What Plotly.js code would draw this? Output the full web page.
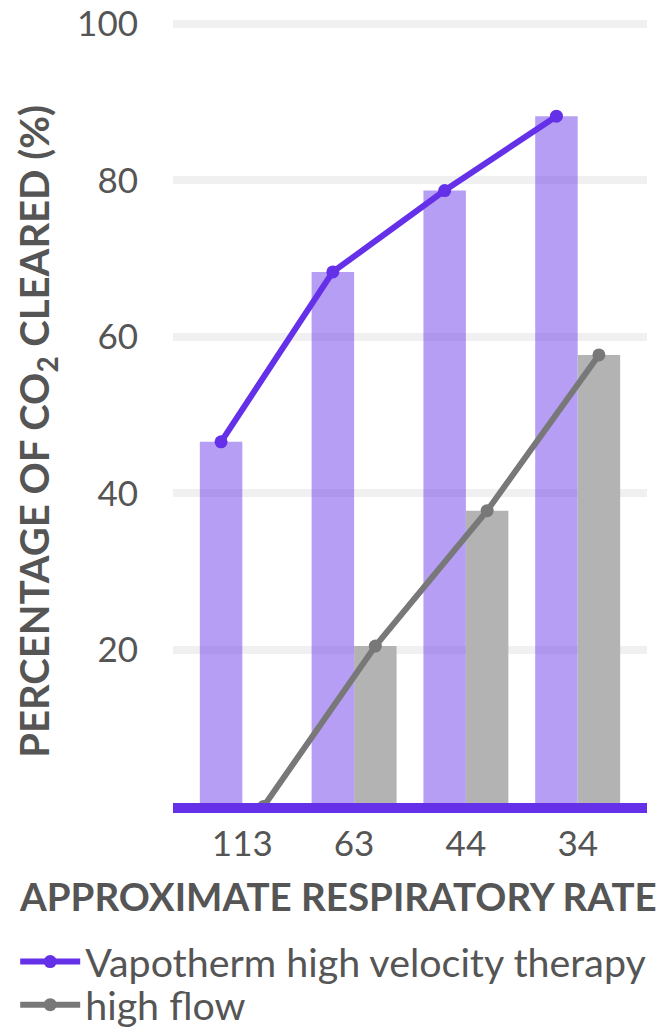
<!DOCTYPE html>
<html>
<head>
<meta charset="utf-8">
<script src="https://cdn.plot.ly/plotly-3.0.1.min.js"></script>
<style>
  html, body { margin: 0; padding: 0; background: #ffffff; }
  #chart { width: 661px; height: 1027px; }
</style>
</head>
<body>
<div id="chart"></div>
<script>
// Respiratory rate groups (x categories)
const rateLabels = ['113', '63', '44', '34'];

// Percentage of CO2 cleared, per therapy
const vapothermValues = [46.6, 68.3, 78.7, 88.2];
const highFlowValues = [0, 20.5, 37.8, 57.7];

// Tick values on the percentage axis
const percentTicks = [20, 40, 60, 80, 100];

const seriesNames = ['Vapotherm high velocity therapy', 'high flow'];

const PURPLE = '#6430e8';
const PURPLE_BAR = 'rgba(100, 48, 232, 0.47)';
const GREY = '#787878';
const GREY_BAR = '#b3b3b3';
const TEXT = '#555555';
const FONT = 'Lato, "Noto Sans", sans-serif';

const BAR_GAP = 0.24;
const barWidth = (1 - BAR_GAP) / 2;

const xIndex = rateLabels.map((_, i) => i);
// Each line runs through the centres of its own series' bars
const vapoX = xIndex.map(i => i - barWidth / 2);
const flowX = xIndex.map(i => i + barWidth / 2);

const traces = [
  {
    type: 'bar', x: vapoX, y: vapothermValues, width: barWidth,
    marker: { color: PURPLE_BAR }, showlegend: false, hoverinfo: 'skip'
  },
  {
    type: 'bar', x: flowX, y: highFlowValues, width: barWidth,
    marker: { color: GREY_BAR }, showlegend: false, hoverinfo: 'skip'
  },
  {
    type: 'scatter', mode: 'lines+markers', name: seriesNames[0],
    x: vapoX, y: vapothermValues,
    line: { color: PURPLE, width: 6 },
    marker: { color: PURPLE, size: 13 },
    legend: 'legend'
  },
  {
    type: 'scatter', mode: 'lines+markers', name: seriesNames[1],
    x: flowX, y: highFlowValues,
    line: { color: GREY, width: 6 },
    marker: { color: GREY, size: 13 },
    legend: 'legend2'
  }
];

// Shared look of the two one-item legends stacked under the chart
const legendStyle = {
  xref: 'container', yref: 'container',
  x: 0.023, xanchor: 'left', yanchor: 'middle',
  font: { family: FONT, size: 39.4, color: TEXT },
  itemwidth: 60,
  bgcolor: 'rgba(0,0,0,0)'
};

const layout = {
  width: 661,
  height: 1027,
  paper_bgcolor: '#ffffff',
  plot_bgcolor: '#ffffff',
  margin: { l: 173, r: 14, t: 16, b: 224, autoexpand: false },
  barmode: 'overlay',
  font: { family: FONT, color: TEXT },
  xaxis: {
    range: [-0.62, 3.62],
    tickmode: 'array',
    tickvals: xIndex,
    ticktext: rateLabels,
    showgrid: false,
    zeroline: false,
    showline: true,
    linecolor: PURPLE,
    linewidth: 10,
    ticks: '',
    ticklabelstandoff: 1,
    tickangle: 0,
    automargin: false,
    tickfont: { family: FONT, size: 35, color: TEXT },
    fixedrange: true
  },
  yaxis: {
    range: [0.45, 101],
    tickmode: 'array',
    tickvals: percentTicks,
    showgrid: true,
    gridcolor: '#f0f0f0',
    gridwidth: 8,
    zeroline: false,
    showline: false,
    ticks: '',
    ticklabelstandoff: 34,
    automargin: false,
    tickfont: { family: FONT, size: 35, color: TEXT },
    fixedrange: true
  },
  annotations: [
    {
      // y-axis title
      text: 'PERCENTAGE OF CO<sub>2</sub> CLEARED (%)',
      xref: 'paper', yref: 'paper',
      x: -0.287, y: 0.473,
      xanchor: 'center', yanchor: 'middle',
      textangle: -90,
      showarrow: false,
      font: { family: FONT, size: 40, color: TEXT, weight: 'bold' }
    },
    {
      // x-axis title
      text: 'APPROXIMATE RESPIRATORY RATE',
      xref: 'paper', yref: 'paper',
      x: 0.348, y: -0.118,
      xanchor: 'center', yanchor: 'middle',
      showarrow: false,
      font: { family: FONT, size: 38.5, color: TEXT, weight: 'bold' }
    }
  ],
  showlegend: true,
  legend: Object.assign({}, legendStyle, { y: 0.0633 }),
  legend2: Object.assign({}, legendStyle, { y: 0.0214 })
};

Plotly.newPlot('chart', traces, layout, { displayModeBar: false, staticPlot: true });
</script>
</body>
</html>
